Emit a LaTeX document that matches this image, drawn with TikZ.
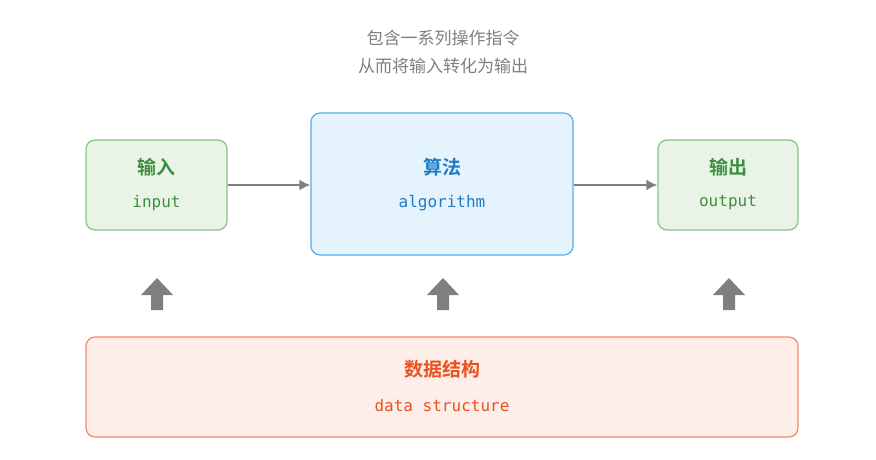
\documentclass[tikz,border=0pt]{standalone}
\usepackage{fontspec}
\newfontfamily\cjk{Noto Sans CJK SC}
\newfontfamily\cjkb{Noto Sans CJK SC Bold}
\setmonofont{DejaVu Sans Mono}
\usetikzlibrary{positioning}
\definecolor{grnfill}{HTML}{E9F4E6}
\definecolor{grnline}{HTML}{86C486}
\definecolor{grntext}{HTML}{3E8E41}
\definecolor{blufill}{HTML}{E5F3FD}
\definecolor{bluline}{HTML}{55AEEA}
\definecolor{blutext}{HTML}{1E7BC4}
\definecolor{orgfill}{HTML}{FDEEE9}
\definecolor{orgline}{HTML}{F08C6E}
\definecolor{orgtext}{HTML}{E8531F}
\definecolor{arrgray}{HTML}{7F7F7F}
\tikzset{
  box/.style={draw, line width=1.2pt, rounded corners=9pt, align=center, inner sep=0pt},
  flow/.style={draw=arrgray, line width=2.4pt, -{Latex[length=11pt,width=11pt]}},
  upblock/.style={fill=arrgray, draw=none}
}
\usetikzlibrary{arrows.meta}
\begin{document}
\begin{tikzpicture}[x=1pt,y=-1pt]
		\useasboundingbox (0,0) rectangle (876,460);
		%caption
		\node[text=arrgray, font=\cjk\fontsize{17}{28}\selectfont, align=center] (cap) at (443,52) {包含一系列操作指令\\从而将输入转化为输出};
		%boxes
		\node[box, fill=grnfill, draw=grnline, minimum width=141pt, minimum height=90pt] (in) at (156.5,185) {};
		\node[box, fill=blufill, draw=bluline, minimum width=262pt, minimum height=142pt] (alg) at (442,184) {};
		\node[box, fill=grnfill, draw=grnline, minimum width=140pt, minimum height=90pt] (out) at (728,185) {};
		\node[box, fill=orgfill, draw=orgline, minimum width=712pt, minimum height=100pt] (ds) at (442,387) {};
		%labels
		\node[text=grntext, font=\cjkb\fontsize{19}{20}\selectfont] (inA) at (156.5,167) {输入};
		\node[text=grntext, font=\ttfamily\fontsize{16}{18}\selectfont] (inB) at (156.5,203) {input};
		\node[text=blutext, font=\cjkb\fontsize{19}{20}\selectfont] (algA) at (442,167) {算法};
		\node[text=blutext, font=\ttfamily\fontsize{16}{18}\selectfont] (algB) at (442,203) {algorithm};
		\node[text=grntext, font=\cjkb\fontsize{19}{20}\selectfont] (outA) at (728,167) {输出};
		\node[text=grntext, font=\ttfamily\fontsize{16}{18}\selectfont] (outB) at (728,203) {output};
		\node[text=orgtext, font=\cjkb\fontsize{19}{20}\selectfont] (dsA) at (442,369) {数据结构};
		\node[text=orgtext, font=\ttfamily\fontsize{16}{18}\selectfont] (dsB) at (442,406) {data structure};
		%flow arrows
		\draw[flow] (in.east) -- (alg.west |- in.east);
		\draw[flow] (alg.east |- out.west) -- (out.west);
		%up arrows
		\foreach \cx in {157,443,729}{
			\fill[upblock] (\cx-6,310) -- (\cx-6,295) -- (\cx-16,295) -- (\cx,278) -- (\cx+16,295) -- (\cx+6,295) -- (\cx+6,310) -- cycle;
		}
	\end{tikzpicture}
\end{document}
